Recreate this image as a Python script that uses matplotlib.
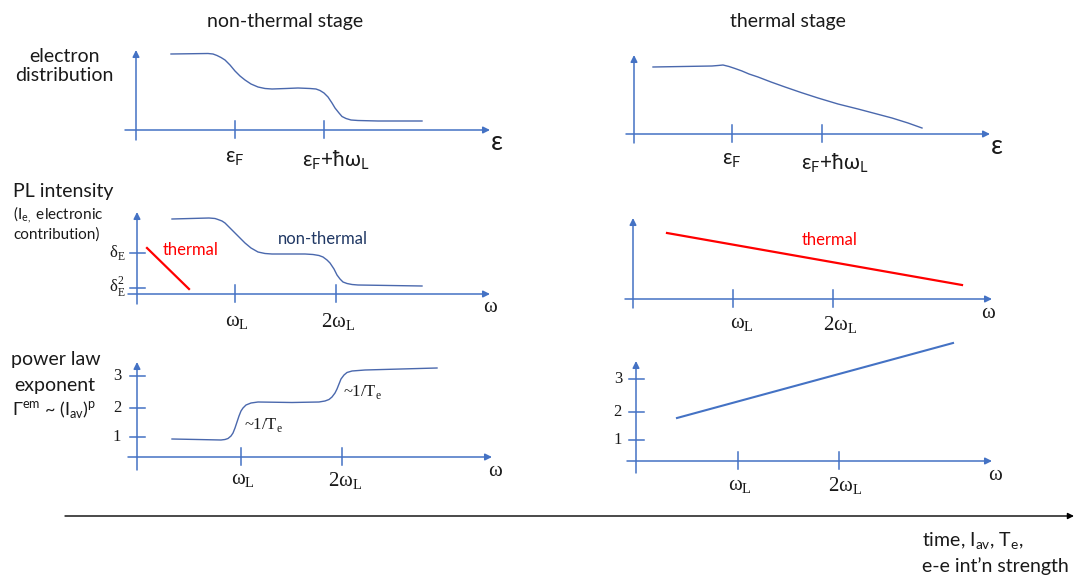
import matplotlib
matplotlib.use('Agg')
import matplotlib.pyplot as plt

W, H = 1075, 578
AX_BLUE = '#4472c4'
CURVE_BLUE = '#4a68ad'
RED = '#ff0000'
INK = '#1a1a1a'
SANS = ['Lato', 'DejaVu Sans']
SERIF = ['Liberation Serif', 'DejaVu Serif']

# ---- values (schematic units, tick omega_L ~ 1) ----
# non-thermal stage: electron distribution vs energy
nt_dist_x = [0.35, 0.72, 0.77, 0.81, 0.85, 0.89, 0.94, 0.99, 1.04, 1.09, 1.15, 1.22, 1.29, 1.36,
             1.50, 1.62, 1.74, 1.80, 1.84, 1.88, 1.92, 1.96, 1.99, 2.03, 2.06, 2.10, 2.15, 2.22,
             2.42, 2.86]
nt_dist_y = [0.76, 0.765, 0.76, 0.745, 0.725, 0.70, 0.65, 0.59, 0.54, 0.50, 0.46, 0.43, 0.415, 0.41,
             0.415, 0.42, 0.415, 0.41, 0.395, 0.37, 0.33, 0.27, 0.22, 0.17, 0.135, 0.115, 0.10, 0.095,
             0.09, 0.09]
# non-thermal stage: PL intensity vs omega
nt_pl_x = [0.35, 0.72, 0.78, 0.81, 0.85, 0.88, 0.93, 0.98, 1.03, 1.08, 1.14, 1.21, 1.28, 1.35,
           1.55, 1.68, 1.76, 1.82, 1.86, 1.90, 1.93, 1.97, 2.00, 2.03, 2.06, 2.10, 2.15, 2.21,
           2.85]
nt_pl_y = [0.75, 0.76, 0.755, 0.745, 0.73, 0.71, 0.66, 0.61, 0.56, 0.51, 0.46, 0.42, 0.405, 0.40,
           0.40, 0.40, 0.395, 0.385, 0.37, 0.34, 0.31, 0.25, 0.19, 0.15, 0.12, 0.105, 0.095, 0.09,
           0.08]
th_pl_short_x = [0.10, 0.52]
th_pl_short_y = [0.46, 0.05]
pl_ytick_pos = [0.41, 0.06]
pl_ytick_lab = [r'δ$_\mathregular{E}$', r'δ$_\mathregular{E}^\mathregular{2}$']
# non-thermal stage: power law exponent vs omega
nt_exp_x = [0.35, 0.60, 0.84, 0.88, 0.91, 0.94, 0.96, 0.98, 1.00, 1.02, 1.04, 1.06, 1.09, 1.14,
            1.21, 1.55, 1.82, 1.88, 1.92, 1.95, 1.98, 2.00, 2.02, 2.04, 2.07, 2.10, 2.15, 2.28,
            3.00]
nt_exp_y = [0.18, 0.175, 0.17, 0.175, 0.185, 0.21, 0.24, 0.29, 0.35, 0.41, 0.46, 0.49, 0.52, 0.54,
            0.55, 0.545, 0.55, 0.56, 0.575, 0.60, 0.64, 0.68, 0.73, 0.78, 0.82, 0.845, 0.86, 0.87,
            0.89]
exp_ytick_pos_nt = [0.20, 0.49, 0.81]
exp_ytick_lab = ['1', '2', '3']
# thermal stage
th_dist_x = [0.19, 0.78, 0.84, 0.89, 0.95, 1.01, 1.08, 1.15, 1.24, 1.37, 1.51, 1.67, 1.84, 2.04,
             2.24, 2.41, 2.58, 2.74, 2.88]
th_dist_y = [0.67, 0.68, 0.685, 0.69, 0.675, 0.655, 0.63, 0.60, 0.57, 0.52, 0.47, 0.415, 0.36, 0.30,
             0.25, 0.205, 0.16, 0.11, 0.06]
th_pl_x = [0.34, 3.29]
th_pl_y = [0.66, 0.14]
th_exp_x = [0.41, 3.17]
th_exp_y = [0.43, 1.18]
exp_ytick_pos_th = [0.21, 0.49, 0.82]

energy_ticks_nt = [0.99, 1.88]
energy_ticks_th = [0.98, 1.88]
energy_labels = [r'ε$_\mathregular{F}$', r'ε$_\mathregular{F}$+ħω$_\mathregular{L}$']
omega_labels = [r'ω$_\mathregular{L}$', r'2ω$_\mathregular{L}$']

fig = plt.figure(figsize=(W / 100, H / 100), dpi=100)
fig.patch.set_facecolor('white')


def panel(ox, oy, xr=(-0.5, 3.9), yr=(-0.45, 1.1)):
    x0, x1 = xr
    y0, y1 = yr
    ax = fig.add_axes([(ox + 100 * x0) / W, (H - oy + 100 * y0) / H,
                       100 * (x1 - x0) / W, 100 * (y1 - y0) / H])
    ax.set_xlim(x0, x1)
    ax.set_ylim(y0, y1)
    ax.axis('off')
    return ax


def draw_axes(ax, xa, ya, xticks, yticks=()):
    ap = dict(arrowstyle='-|>', color=AX_BLUE, lw=1.1, mutation_scale=10, shrinkA=0, shrinkB=0)
    ax.annotate('', xy=(xa[1], 0), xytext=(xa[0], 0), arrowprops=ap)
    ax.annotate('', xy=(0, ya[1]), xytext=(0, ya[0]), arrowprops=ap)
    for t in xticks:
        ax.plot([t, t], [-0.08, 0.09], color=AX_BLUE, lw=1.1, clip_on=False)
    for t in yticks:
        ax.plot([-0.07, 0.08], [t, t], color=AX_BLUE, lw=1.1, clip_on=False)


# ---- top-left: electron distribution, non-thermal ----
a1 = panel(136, 130)
draw_axes(a1, (-0.11, 3.54), (-0.10, 0.80), energy_ticks_nt)
a1.plot(nt_dist_x, nt_dist_y, color=CURVE_BLUE, lw=1.0, clip_on=False, solid_joinstyle='round')
a1.text(energy_ticks_nt[0], -0.28, energy_labels[0], family=SANS, fontsize=15, color=INK, ha='center', va='center')
a1.text(2.00, -0.30, energy_labels[1], family=SANS, fontsize=15, color=INK, ha='center', va='center')
a1.text(3.61, -0.13, 'ε', family=SANS, fontsize=19, color=INK, ha='center', va='center')

# ---- mid-left: PL intensity, non-thermal ----
a2 = panel(137, 294)
draw_axes(a2, (-0.09, 3.53), (-0.10, 0.82), [0.98, 1.99], pl_ytick_pos)
a2.plot(nt_pl_x, nt_pl_y, color=CURVE_BLUE, lw=1.0, clip_on=False, solid_joinstyle='round')
a2.plot(th_pl_short_x, th_pl_short_y, color=RED, lw=1.6, clip_on=False)
a2.text(0.54, 0.44, 'thermal', family=SANS, fontsize=12, color=RED, ha='center', va='center')
a2.text(1.86, 0.55, 'non-thermal', family=SANS, fontsize=12, color='#203864', ha='center', va='center')
for p, lab in zip(pl_ytick_pos, pl_ytick_lab):
    a2.text(-0.12, p + 0.01, lab, family=SERIF, fontsize=12, color=INK, ha='right', va='center')
a2.text(1.00, -0.28, omega_labels[0], family=SERIF, fontsize=15, color=INK, ha='center', va='center')
a2.text(2.01, -0.28, omega_labels[1], family=SERIF, fontsize=15, color=INK, ha='center', va='center')
a2.text(3.53, -0.13, 'ω', family=SERIF, fontsize=15, color=INK, ha='center', va='center')

# ---- bottom-left: power law exponent, non-thermal ----
a3 = panel(137, 457)
draw_axes(a3, (-0.09, 3.55), (-0.13, 0.95), [1.04, 2.05], exp_ytick_pos_nt)
a3.plot(nt_exp_x, nt_exp_y, color=CURVE_BLUE, lw=1.0, clip_on=False, solid_joinstyle='round')
for p, lab in zip(exp_ytick_pos_nt, exp_ytick_lab):
    a3.text(-0.16, p, lab, family=SERIF, fontsize=12, color=INK, ha='right', va='center')
a3.text(1.07, 0.32, r'~1/T$_\mathregular{e}$', family=SERIF, fontsize=12, color=INK, ha='left', va='center')
a3.text(2.06, 0.65, r'~1/T$_\mathregular{e}$', family=SERIF, fontsize=12, color=INK, ha='left', va='center')
a3.text(1.06, -0.24, omega_labels[0], family=SERIF, fontsize=15, color=INK, ha='center', va='center')
a3.text(2.08, -0.24, omega_labels[1], family=SERIF, fontsize=15, color=INK, ha='center', va='center')
a3.text(3.58, -0.15, 'ω', family=SERIF, fontsize=15, color=INK, ha='center', va='center')

# ---- top-right: electron distribution, thermal ----
b1 = panel(634, 134)
draw_axes(b1, (-0.08, 3.56), (-0.09, 0.79), energy_ticks_th)
b1.plot(th_dist_x, th_dist_y, color=CURVE_BLUE, lw=1.0, clip_on=False, solid_joinstyle='round')
b1.text(energy_ticks_th[0], -0.26, energy_labels[0], family=SANS, fontsize=15, color=INK, ha='center', va='center')
b1.text(2.01, -0.29, energy_labels[1], family=SANS, fontsize=15, color=INK, ha='center', va='center')
b1.text(3.63, -0.13, 'ε', family=SANS, fontsize=19, color=INK, ha='center', va='center')

# ---- mid-right: PL intensity, thermal ----
b2 = panel(633, 299)
draw_axes(b2, (-0.08, 3.59), (-0.09, 0.81), [1.00, 2.00])
b2.plot(th_pl_x, th_pl_y, color=RED, lw=1.6, clip_on=False)
b2.text(1.97, 0.59, 'thermal', family=SANS, fontsize=12, color=RED, ha='center', va='center')
b2.text(1.09, -0.26, omega_labels[0], family=SERIF, fontsize=15, color=INK, ha='center', va='center')
b2.text(2.07, -0.26, omega_labels[1], family=SERIF, fontsize=15, color=INK, ha='center', va='center')
b2.text(3.55, -0.14, 'ω', family=SERIF, fontsize=15, color=INK, ha='center', va='center')

# ---- bottom-right: power law exponent, thermal ----
b3 = panel(636, 461)
draw_axes(b3, (-0.09, 3.56), (-0.12, 1.00), [1.02, 2.03], exp_ytick_pos_th)
b3.plot(th_exp_x, th_exp_y, color=AX_BLUE, lw=1.5, clip_on=False)
for p, lab in zip(exp_ytick_pos_th, exp_ytick_lab):
    b3.text(-0.14, p, lab, family=SERIF, fontsize=12, color=INK, ha='right', va='center')
b3.text(1.04, -0.25, omega_labels[0], family=SERIF, fontsize=15, color=INK, ha='center', va='center')
b3.text(2.09, -0.25, omega_labels[1], family=SERIF, fontsize=15, color=INK, ha='center', va='center')
b3.text(3.59, -0.14, 'ω', family=SERIF, fontsize=15, color=INK, ha='center', va='center')

# ---- page-level labels and the time arrow (pixel layout) ----
fa = fig.add_axes([0, 0, 1, 1])
fa.set_xlim(0, W)
fa.set_ylim(H, 0)
fa.axis('off')
fa.patch.set_alpha(0)

fa.text(285, 21, 'non-thermal stage', family=SANS, fontsize=14, color=INK, ha='center', va='center')
fa.text(788, 21, 'thermal stage', family=SANS, fontsize=14, color=INK, ha='center', va='center')
fa.text(64, 66, 'electron\ndistribution', family=SANS, fontsize=14, color=INK, ha='center', va='center',
        linespacing=1.15)
fa.text(13, 192, 'PL intensity', family=SANS, fontsize=14, color=INK, ha='left', va='center')
fa.text(13, 215, r'(I$_\mathregular{e,}$ electronic', family=SANS, fontsize=11, color=INK, ha='left', va='center')
fa.text(13, 235, 'contribution)', family=SANS, fontsize=11, color=INK, ha='left', va='center')
fa.text(11, 360, 'power law', family=SANS, fontsize=14, color=INK, ha='left', va='center')
fa.text(14, 385, 'exponent', family=SANS, fontsize=14, color=INK, ha='left', va='center')
fa.text(12, 410, r'Γ$^\mathregular{em}$ ~ (I$_\mathregular{av}$)$^\mathregular{p}$', family=SANS,
        fontsize=13, color=INK, ha='left', va='center')

fa.annotate('', xy=(1074, 516), xytext=(65, 516),
            arrowprops=dict(arrowstyle='-|>', color='black', lw=1.0, mutation_scale=9,
                            shrinkA=0, shrinkB=0))
fa.text(922, 541, r'time, I$_\mathregular{av}$, T$_\mathregular{e}$,', family=SANS, fontsize=14,
        color=INK, ha='left', va='center')
fa.text(922, 566, "e-e int’n strength", family=SANS, fontsize=14, color=INK, ha='left', va='center')

fig.savefig('out.png', dpi=100, facecolor='white')
